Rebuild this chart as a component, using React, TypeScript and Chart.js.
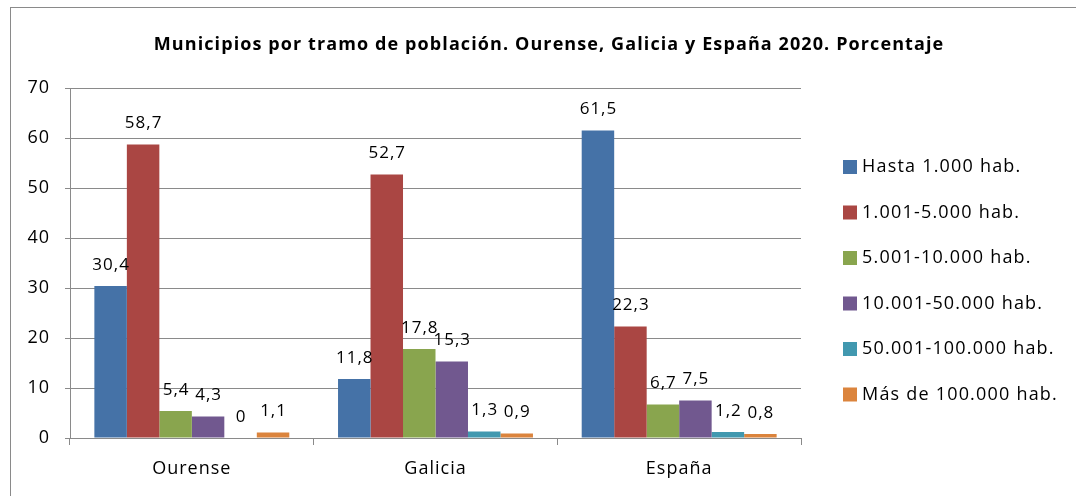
import React, { useEffect, useRef } from "react";
import { Chart, registerables } from "chart.js";

Chart.register(...registerables);

const categories = ["Ourense", "Galicia", "España"];
const seriesNames = [
  "Hasta 1.000 hab.",
  "1.001-5.000 hab.",
  "5.001-10.000 hab.",
  "10.001-50.000 hab.",
  "50.001-100.000 hab.",
  "Más de 100.000 hab.",
];
const hasta1000 = [30.4, 11.8, 61.5];
const de1001a5000 = [58.7, 52.7, 22.3];
const de5001a10000 = [5.4, 17.8, 6.7];
const de10001a50000 = [4.3, 15.3, 7.5];
const de50001a100000 = [0, 1.3, 1.2];
const mas100000 = [1.1, 0.9, 0.8];
const seriesColors = ["#4572A7", "#AA4643", "#89A54E", "#71588F", "#4198AF", "#DB843D"];
const yTicks = [0, 10, 20, 30, 40, 50, 60, 70];
const title = "Municipios por tramo de población. Ourense, Galicia y España 2020. Porcentaje";

const FONT = "'Open Sans', 'Liberation Sans', sans-serif";

const framePlugin = {
  id: "frame",
  beforeDraw(chart: any) {
    const ctx = chart.ctx;
    ctx.save();
    ctx.fillStyle = "#ffffff";
    ctx.fillRect(0, 0, chart.width, chart.height);
    ctx.strokeStyle = "#8a8a8a";
    ctx.lineWidth = 1;
    ctx.strokeRect(10.5, 7.5, 3000, 3000);
    ctx.fillStyle = "#000000";
    ctx.font = "bold 18px " + FONT;
    ctx.letterSpacing = "1.1px";
    ctx.textAlign = "center";
    ctx.textBaseline = "middle";
    ctx.fillText(title, 549, 45);
    ctx.restore();
    // spacing for axis tick labels drawn by Chart.js
    ctx.letterSpacing = "1px";
  },
  afterDatasetsDraw(chart: any) {
    const ctx = chart.ctx;
    ctx.save();
    ctx.fillStyle = "#000000";
    ctx.font = "17px " + FONT;
    ctx.letterSpacing = "1px";
    ctx.textAlign = "center";
    ctx.textBaseline = "middle";
    chart.data.datasets.forEach((ds: any, i: number) => {
      const meta = chart.getDatasetMeta(i);
      meta.data.forEach((bar: any, j: number) => {
        const v = ds.data[j];
        ctx.fillText(String(v).replace(".", ","), bar.x + 0.5, bar.y - 21);
      });
    });
    // legend
    ctx.textAlign = "left";
    ctx.font = "18px " + FONT;
    ctx.letterSpacing = "1.2px";
    chart.data.datasets.forEach((ds: any, i: number) => {
      const cy = 167 + i * 45.5;
      ctx.fillStyle = ds.backgroundColor;
      ctx.fillRect(843, cy - 7, 14, 14);
      ctx.fillStyle = "#000000";
      ctx.fillText(ds.label, 862, cy);
    });
    ctx.restore();
  },
};

export default function App() {
  const ref = useRef<HTMLCanvasElement>(null);
  useEffect(() => {
    if (!ref.current) return;
    const seriesData = [hasta1000, de1001a5000, de5001a10000, de10001a50000, de50001a100000, mas100000];
    const chart = new Chart(ref.current, {
      type: "bar",
      data: {
        labels: categories,
        datasets: seriesNames.map((name, i) => ({
          label: name,
          data: seriesData[i],
          backgroundColor: seriesColors[i],
          borderWidth: 0,
          categoryPercentage: 0.8,
          barPercentage: 1,
        })),
      },
      options: {
        animation: false,
        responsive: false,
        maintainAspectRatio: false,
        layout: { padding: { left: 0, right: 275, top: 88, bottom: 0 } },
        plugins: {
          legend: { display: false },
          title: { display: false },
          tooltip: { enabled: false },
        },
        scales: {
          x: {
            grid: {
              display: true,
              drawOnChartArea: false,
              drawTicks: true,
              offset: true,
              tickLength: 7,
              color: "#8a8a8a",
            },
            border: { color: "#8a8a8a", width: 1 },
            ticks: {
              color: "#000000",
              font: { family: FONT, size: 18 },
              padding: 13,
            },
            afterFit(scale: any) {
              scale.height = 496 - 438;
            },
          },
          y: {
            min: 0,
            max: 70,
            afterBuildTicks(scale: any) {
              scale.ticks = yTicks.map((v) => ({ value: v }));
            },
            grid: {
              color: "#8a8a8a",
              tickLength: 5,
              drawTicks: true,
            },
            border: { color: "#8a8a8a", width: 1 },
            ticks: {
              color: "#000000",
              font: { family: FONT, size: 18 },
              padding: 15,
            },
            afterFit(scale: any) {
              scale.width = 70;
            },
          },
        },
      },
      plugins: [framePlugin],
    });
    return () => chart.destroy();
  }, []);
  return (
    <div style={{ position: "absolute", left: 0, top: 0, width: 1076, height: 496 }}>
      <canvas ref={ref} width={1076} height={496} style={{ display: "block", width: 1076, height: 496 }} />
    </div>
  );
}
